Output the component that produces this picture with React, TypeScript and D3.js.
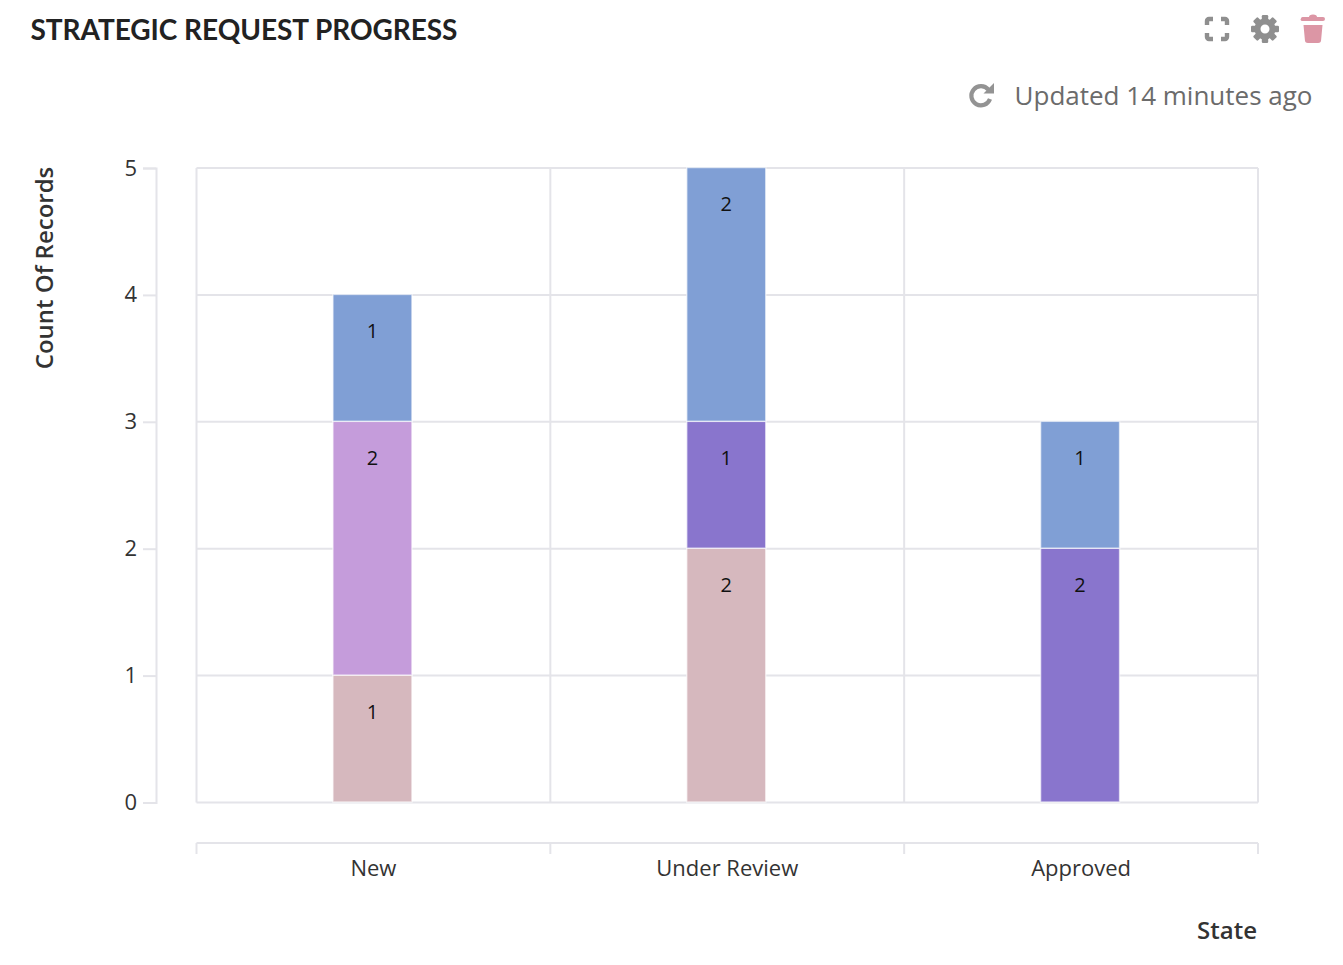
import { useRef, useEffect } from 'react';
import * as d3 from 'd3';

const states = ['New', 'Under Review', 'Approved'];
const seriesNames = ['Draft', 'Pending', 'Active', 'Closed'];
const draftCounts = [1, 2, 0];
const pendingCounts = [2, 0, 0];
const activeCounts = [0, 1, 2];
const closedCounts = [1, 2, 1];
const countTicks = [0, 1, 2, 3, 4, 5];

const seriesColors = ['#d6b8be', '#c59cdb', '#8975cd', '#809fd5'];
const gridColor = '#e4e4e9';
const font = '"Open Sans", sans-serif';

const WIDTH = 1343;
const HEIGHT = 965;
const plot = { left: 196.5, right: 1258, top: 168, bottom: 802.5 };

export default function App() {
  const svgRef = useRef<SVGSVGElement>(null);

  useEffect(() => {
    if (!svgRef.current) return;
    const svg = d3.select(svgRef.current);
    svg.selectAll('*').remove();

    const rows = states.map((state, i) => ({
      state,
      Draft: draftCounts[i],
      Pending: pendingCounts[i],
      Active: activeCounts[i],
      Closed: closedCounts[i],
    }));
    const stacked = d3.stack<any>().keys(seriesNames)(rows);

    const x = d3.scaleBand<string>().domain(states).range([plot.left, plot.right]);
    const y = d3.scaleLinear().domain([0, 5]).range([plot.bottom, plot.top]);
    const barWidth = 79;

    // Title
    svg.append('text')
      .attr('x', 30.5)
      .attr('y', 40)
      .attr('font-family', 'Lato, sans-serif')
      .attr('font-weight', 700)
      .attr('font-size', 28)
      .attr('letter-spacing', -0.05)
      .attr('fill', '#222222')
      .text('STRATEGIC REQUEST PROGRESS');

    // Fullscreen icon
    const icons = svg.append('g');
    icons.append('path')
      .attr('d', 'M1207 25 v-4 a2 2 0 0 1 2 -2 h4 M1221 19 h4 a2 2 0 0 1 2 2 v4 M1227 33 v4 a2 2 0 0 1 -2 2 h-4 M1213 39 h-4 a2 2 0 0 1 -2 -2 v-4')
      .attr('fill', 'none')
      .attr('stroke', '#8f8f8f')
      .attr('stroke-width', 4.4);

    // Gear icon
    const gear = icons.append('g').attr('transform', 'translate(1265,29)');
    d3.range(8).forEach((i) => {
      gear.append('rect')
        .attr('x', -3.2)
        .attr('y', -14)
        .attr('width', 6.4)
        .attr('height', 7)
        .attr('rx', 1.2)
        .attr('fill', '#8f8f8f')
        .attr('transform', `rotate(${i * 45})`);
    });
    gear.append('circle')
      .attr('r', 7.5)
      .attr('fill', 'none')
      .attr('stroke', '#8f8f8f')
      .attr('stroke-width', 6);

    // Trash icon
    icons.append('path')
      .attr('d', 'M1301 18.5 a1.5 1.5 0 0 1 1.5 -1.5 h6.5 a4 2.5 0 0 1 8 0 h6 a1.5 1.5 0 0 1 0 4 h-20.5 a1.5 1.5 0 0 1 -1.5 -2.5 z M1303.5 25 h19 l-1.4 15 a3 3 0 0 1 -3 3 h-10.2 a3 3 0 0 1 -3 -3 z')
      .attr('fill', '#dc96a5');

    // Refresh icon
    icons.append('path')
      .attr('d', 'M990 99 a9.6 9.6 0 1 1 -1.6 -9.3')
      .attr('fill', 'none')
      .attr('stroke', '#939393')
      .attr('stroke-width', 4.2);
    icons.append('path')
      .attr('d', 'M994 83 v10.5 h-10.5 z')
      .attr('fill', '#939393');

    svg.append('text')
      .attr('x', 1312.5)
      .attr('y', 105)
      .attr('text-anchor', 'end')
      .attr('font-family', font)
      .attr('font-size', 26)
      .attr('fill', '#6b6b6b')
      .text('Updated 14 minutes ago');

    // Grid
    const grid = svg.append('g');
    countTicks.forEach((t) => {
      grid.append('line')
        .attr('x1', plot.left)
        .attr('x2', plot.right)
        .attr('y1', y(t))
        .attr('y2', y(t))
        .attr('stroke', gridColor)
        .attr('stroke-width', 2);
    });
    [...states.map((s) => x(s) as number), plot.right].forEach((gx) => {
      grid.append('line')
        .attr('x1', gx)
        .attr('x2', gx)
        .attr('y1', plot.top)
        .attr('y2', plot.bottom)
        .attr('stroke', gridColor)
        .attr('stroke-width', 2);
    });

    // Bars
    stacked.forEach((layer, li) => {
      layer.forEach((seg: any) => {
        const value = seg[1] - seg[0];
        if (value === 0) return;
        const cx = (x(seg.data.state) as number) + x.bandwidth() / 2 - 1;
        svg.append('rect')
          .attr('x', cx - barWidth / 2)
          .attr('y', y(seg[1]) - 0.5)
          .attr('width', barWidth)
          .attr('height', y(seg[0]) - y(seg[1]))
          .attr('fill', seriesColors[li])
          .attr('stroke', '#ffffff')
          .attr('stroke-opacity', 0.6)
          .attr('stroke-width', 1.5);
        svg.append('text')
          .attr('x', cx)
          .attr('y', y(seg[1]) + 36)
          .attr('dy', '0.35em')
          .attr('text-anchor', 'middle')
          .attr('font-family', font)
          .attr('font-size', 20)
          .attr('fill', '#111111')
          .text(value);
      });
    });

    // Y axis
    svg.append('g')
      .attr('transform', 'translate(156,0)')
      .call(d3.axisLeft(y).tickValues(countTicks).tickSize(13).tickPadding(6).tickFormat(d3.format('d') as any))
      .call((g) => g.select('.domain').attr('stroke', gridColor).attr('stroke-width', 2))
      .call((g) => g.selectAll('.tick line').attr('stroke', gridColor).attr('stroke-width', 2))
      .call((g) => g.selectAll('.tick text').attr('fill', '#333333').attr('font-size', 22).attr('font-family', font));

    // X axis
    const xAxisY = 843;
    const xAxis = svg.append('g');
    xAxis.append('line')
      .attr('x1', plot.left).attr('x2', plot.right)
      .attr('y1', xAxisY).attr('y2', xAxisY)
      .attr('stroke', gridColor).attr('stroke-width', 2);
    [...states.map((s) => x(s) as number), plot.right].forEach((gx) => {
      xAxis.append('line')
        .attr('x1', gx).attr('x2', gx)
        .attr('y1', xAxisY).attr('y2', xAxisY + 11)
        .attr('stroke', gridColor).attr('stroke-width', 2);
    });
    states.forEach((s) => {
      xAxis.append('text')
        .attr('x', (x(s) as number) + x.bandwidth() / 2)
        .attr('y', 876)
        .attr('text-anchor', 'middle')
        .attr('font-family', font)
        .attr('font-size', 22)
        .attr('fill', '#333333')
        .text(s);
    });

    // Axis titles
    svg.append('text')
      .attr('transform', 'translate(53,268) rotate(-90)')
      .attr('text-anchor', 'middle')
      .attr('font-family', font)
      .attr('font-weight', 600)
      .attr('font-size', 24)
      .attr('fill', '#333333')
      .text('Count Of Records');
    svg.append('text')
      .attr('x', 1257)
      .attr('y', 939)
      .attr('text-anchor', 'end')
      .attr('font-family', font)
      .attr('font-weight', 600)
      .attr('font-size', 24)
      .attr('fill', '#333333')
      .text('State');
  }, []);

  return (
    <svg
      ref={svgRef}
      width={WIDTH}
      height={HEIGHT}
      style={{ position: 'absolute', left: 0, top: 0, background: '#ffffff' }}
    />
  );
}
